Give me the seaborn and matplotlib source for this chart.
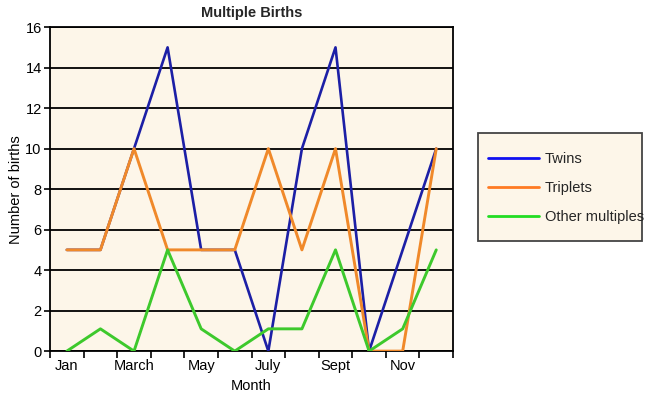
import pandas as pd
import matplotlib.pyplot as plt
import seaborn as sns
from matplotlib.lines import Line2D
from matplotlib.patches import Rectangle

months = ['Jan', 'Feb', 'March', 'Apr', 'May', 'Jun', 'July', 'Aug', 'Sept', 'Oct', 'Nov', 'Dec']
twins = [5, 5, 10, 15, 5, 5, 0, 10, 15, 0, 5, 10]
triplets = [5, 5, 10, 5, 5, 5, 10, 5, 10, 0, 0, 10]
other = [0, 1.1, 0, 5, 1.1, 0, 1.1, 1.1, 5, 0, 1.1, 5]
series_names = ['Twins', 'Triplets', 'Other multiples']
line_colors = ['#1c1fa6', '#f0892a', '#3dc92c']
legend_colors = ['#1010f0', '#ff7a22', '#22dd22']

df = pd.DataFrame({
    'pos': list(range(12)) * 3,
    'births': twins + triplets + other,
    'series': [s for s in series_names for _ in months],
})

sns.set_style('white')
plt.rcParams['font.family'] = ['Liberation Sans', 'DejaVu Sans']
fs = 10.5

fig = plt.figure(figsize=(6.5, 3.99), dpi=100)
ax = fig.add_axes([0.077, 0.12, 0.62, 0.812])
ax.set_facecolor('#fdf6e9')

sns.lineplot(data=df, x='pos', y='births', hue='series', hue_order=series_names,
             palette=line_colors, linewidth=2.1, ax=ax, legend=False, zorder=3)
# twins line sits underneath the triplets where they overlap
ax.lines[0].set_linewidth(1.9)

ax.set_xlim(-0.5, 11.5)
ax.set_ylim(0, 16)
ax.set_yticks(range(0, 17, 2))
ax.set_xticks(range(0, 12, 2))
ax.set_xticklabels(months[0::2], fontsize=fs)
ax.set_xticks([i - 0.5 for i in range(13)], minor=True)
ax.tick_params(axis='x', which='major', length=0, pad=6)
ax.tick_params(axis='x', which='minor', bottom=True, length=5, width=1.2,
               direction='out', color='black')
ax.tick_params(axis='y', left=True, length=4, width=1.2, direction='out',
               color='black', labelsize=fs, pad=2, labelcolor='black')
ax.tick_params(axis='x', labelcolor='black')
ax.yaxis.grid(True, color='black', linewidth=1.3, zorder=1)
ax.set_axisbelow(True)
for sp in ax.spines.values():
    sp.set_color('black')
    sp.set_linewidth(1.3)

ax.set_title('Multiple Births', fontsize=fs, fontweight='bold', pad=7)
ax.set_xlabel('Month', fontsize=fs, labelpad=4, color='black')
ax.set_ylabel('Number of births', fontsize=fs, labelpad=2, color='black')

# legend box drawn by hand, entries placed inside it
fig.patches.append(Rectangle((0.735, 0.396), 0.252, 0.271, transform=fig.transFigure,
                             facecolor='#fdf6e9', edgecolor='#444444', linewidth=1.3))
handles = [Line2D([0], [0], color=c, linewidth=2) for c in legend_colors]
fig.legend(handles, series_names, loc='center left', bbox_to_anchor=(0.751, 0.529),
           fontsize=fs, frameon=False, handlelength=3.5, labelspacing=1.05,
           borderpad=0, borderaxespad=0, handletextpad=0.4)

fig.savefig('out.png', dpi=100)
